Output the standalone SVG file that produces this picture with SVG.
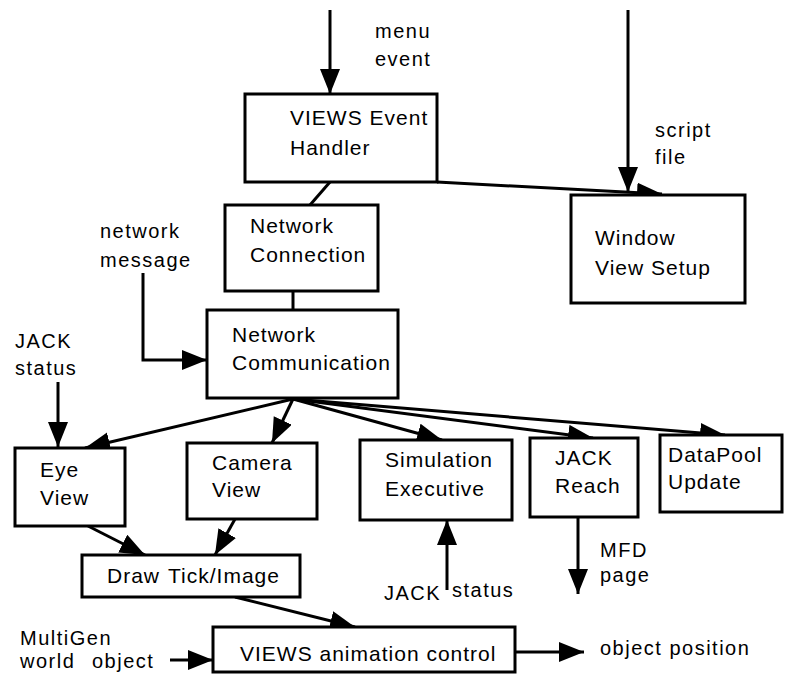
<svg xmlns="http://www.w3.org/2000/svg" width="786" height="677" viewBox="0 0 786 677">
<style>
.box{fill:#fff;stroke:#000;stroke-width:3}
.t{font-family:"Liberation Sans",Arial,sans-serif;font-size:21px;fill:#000;letter-spacing:1px}
.l{font-family:"Liberation Sans",Arial,sans-serif;font-size:20px;fill:#000;letter-spacing:1.5px}
.c{fill:none;stroke:#000;stroke-width:3}
.a{fill:none;stroke:#000;stroke-width:3;marker-end:url(#ah)}
</style>
<defs>
<marker id="ah" markerUnits="userSpaceOnUse" markerWidth="28" markerHeight="22" refX="25" refY="10" orient="auto">
<path d="M0,0 L25,10 L0,20 z" fill="#000"/>
</marker>
</defs>
<rect width="786" height="677" fill="#fff"/>
<g id="connectors">
<line class="a" x1="330" y1="10" x2="330" y2="94"/>
<line class="a" x1="628" y1="10" x2="628" y2="192"/>
<polyline class="a" points="437,182 662,194"/>
<line class="c" x1="330" y1="182" x2="310" y2="205"/>
<line class="c" x1="293" y1="291" x2="293" y2="310"/>
<polyline class="a" points="143,273 143,360 207,360"/>
<line class="a" x1="58" y1="382" x2="58" y2="447"/>
<line class="a" x1="293" y1="399" x2="85" y2="448"/>
<line class="a" x1="293" y1="399" x2="272" y2="443"/>
<line class="a" x1="293" y1="399" x2="442" y2="440"/>
<line class="a" x1="293" y1="399" x2="593" y2="438"/>
<line class="a" x1="293" y1="399" x2="725" y2="435"/>
<line class="a" x1="447" y1="590" x2="447" y2="520"/>
<line class="a" x1="578" y1="517" x2="578" y2="594"/>
<line class="a" x1="88" y1="526" x2="145" y2="555"/>
<line class="a" x1="235" y1="519" x2="215" y2="555"/>
<line class="a" x1="235" y1="597" x2="355" y2="627"/>
<line class="a" x1="170" y1="660" x2="213" y2="660"/>
<line class="a" x1="515" y1="652" x2="584" y2="652"/>
</g>
<g id="labels">
<text class="l" x="375" y="38">menu</text>
<text class="l" x="375" y="66">event</text>
<text class="l" x="655" y="137">script</text>
<text class="l" x="655" y="164">file</text>
<text class="l" x="100" y="238">network</text>
<text class="l" x="100" y="267">message</text>
<text class="l" x="15" y="348">JACK</text>
<text class="l" x="15" y="375">status</text>
<text class="l" x="384" y="600">JACK</text>
<text class="l" x="452" y="597">status</text>
<text class="l" x="600" y="557">MFD</text>
<text class="l" x="600" y="582">page</text>
<text class="l" x="20" y="645">MultiGen</text>
<text class="l" y="668"><tspan x="20">world</tspan><tspan x="92">object</tspan></text>
<text class="l" x="600" y="655">object position</text>
</g>
<g id="event-handler"><rect class="box" x="245" y="94" width="192" height="88"/><text class="t" x="290" y="125">VIEWS Event</text><text class="t" x="290" y="155">Handler</text></g>
<g id="network-connection"><rect class="box" x="225" y="205" width="153" height="86"/><text class="t" x="250" y="233">Network</text><text class="t" x="250" y="262">Connection</text></g>
<g id="network-communication"><rect class="box" x="207" y="310" width="191" height="88"/><text class="t" x="232" y="342">Network</text><text class="t" x="232" y="370">Communication</text></g>
<g id="window-view-setup"><rect class="box" x="571" y="195" width="174" height="108"/><text class="t" x="595" y="245">Window</text><text class="t" x="595" y="275">View Setup</text></g>
<g id="eye-view"><rect class="box" x="15" y="448" width="110" height="78"/><text class="t" x="40" y="477">Eye</text><text class="t" x="40" y="505">View</text></g>
<g id="camera-view"><rect class="box" x="187" y="443" width="130" height="76"/><text class="t" x="212" y="470">Camera</text><text class="t" x="212" y="497">View</text></g>
<g id="simulation-executive"><rect class="box" x="360" y="440" width="152" height="80"/><text class="t" x="385" y="467">Simulation</text><text class="t" x="385" y="496">Executive</text></g>
<g id="jack-reach"><rect class="box" x="530" y="438" width="108" height="79"/><text class="t" x="555" y="465">JACK</text><text class="t" x="555" y="493">Reach</text></g>
<g id="datapool-update"><rect class="box" x="660" y="435" width="122" height="77"/><text class="t" x="668" y="462">DataPool</text><text class="t" x="668" y="489">Update</text></g>
<g id="draw-tick"><rect class="box" x="82" y="555" width="218" height="42"/><text class="t" y="583"><tspan x="107">Draw</tspan><tspan x="168">Tick/Image</tspan></text></g>
<g id="animation-control"><rect class="box" x="213" y="627" width="302" height="45"/><text class="t" x="240" y="661">VIEWS animation control</text></g>
</svg>
